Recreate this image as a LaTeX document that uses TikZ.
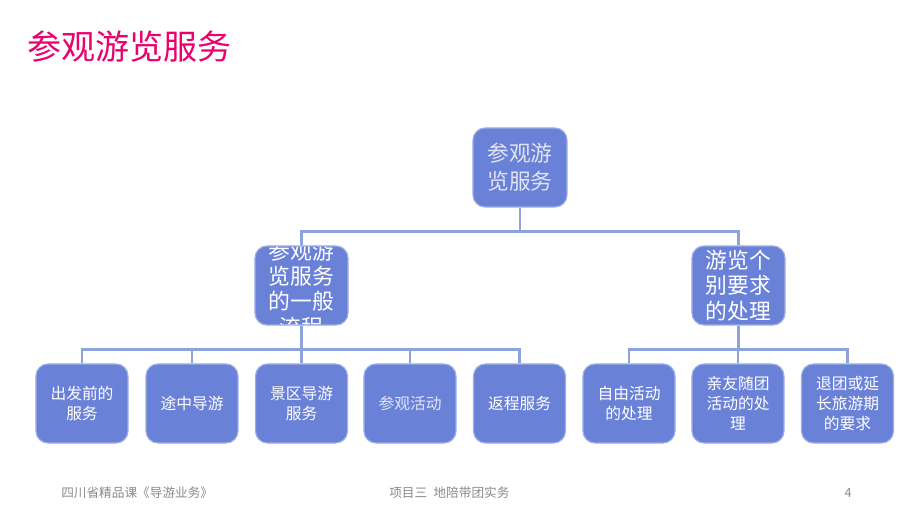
\documentclass[tikz,border=0pt]{standalone}
\usepackage{fontspec}
\newfontfamily\cjk{Noto Sans CJK SC}
\usepackage{tikz}
\usetikzlibrary{positioning}
\definecolor{titolo}{RGB}{236,0,110}
\definecolor{boxfondo}{RGB}{106,129,216}
\definecolor{boxbordo}{RGB}{158,175,232}
\definecolor{linea}{RGB}{141,163,222}
\definecolor{piede}{RGB}{137,137,137}
\definecolor{chiaro}{RGB}{226,228,242}

\begin{document}
\begin{tikzpicture}[x=0.025cm, y=-0.025cm,
    box/.style={draw=boxbordo, fill=boxfondo, line width=0.8pt, rounded corners=0.3cm,
        minimum width=2.3cm, minimum height=1.975cm, inner sep=0pt, align=center, text=white},
    grande/.style={font={\fontsize{15.5}{18}\selectfont\cjk}},
    piccolo/.style={font={\fontsize{11.2}{14.2}\selectfont\cjk}},
    conn/.style={draw=linea, line width=1.6pt}]
    \useasboundingbox (0,0) rectangle (920,518);
    % Titolo
    \node[anchor=west, inner sep=0pt, text=titolo, font={\fontsize{24.2}{28}\selectfont\cjk}] (titolo) at (27,47) {参观游览服务};
    % Livelli superiori
    \node[box, grande, minimum width=2.35cm, text=chiaro, font={\fontsize{15.5}{20}\selectfont\cjk}] (top) at (520,167.5) {参观游\\览服务};
    \node[box, minimum width=2.325cm, path picture={
        \node[grande, align=center, text=white, inner sep=0pt] at ([yshift=-0.08cm]path picture bounding box.center) {参观游\\览服务\\的一般\\流程};
    }] (gen) at (301.5,285.5) {};
    \node[box, grande, minimum width=2.325cm] (ind) at (738.5,285.5) {游览个\\别要求\\的处理};
    % Riga in basso
    \foreach \nome/\x/\testo/\col in {b1/82/出发前的\\服务/white, b2/192/途中导游/white,
        b3/301.5/景区导游\\服务/white, b4/410/参观活动/chiaro, b5/519.5/返程服务/white,
        b6/629/自由活动\\的处理/white, b7/738/亲友随团\\活动的处\\理/white,
        b8/847.5/退团或延\\长旅游期\\的要求/white}
        \node[box, piccolo, text=\col] (\nome) at (\x,403.5) {\testo};
    % Connettori
    \draw[conn] (top.south) -- ++(0,24) -| (gen.north);
    \draw[conn] (top.south) -- ++(0,24) -| (ind.north);
    \foreach \n in {b1,b2,b3,b4,b5}
        \draw[conn] (gen.south) -- ++(0,24) -| (\n.north);
    \foreach \n in {b6,b7,b8}
        \draw[conn] (ind.south) -- ++(0,24) -| (\n.north);
    % Piede di pagina
    \node[anchor=west, inner sep=0pt, text=piede, font={\fontsize{9}{11}\selectfont\cjk}] (corso) at (61,493) {四川省精品课《导游业务》};
    \node[anchor=west, inner sep=0pt, text=piede, font={\fontsize{9}{11}\selectfont\cjk}] (progetto) at (389,493) {项目三\enspace 地陪带团实务};
    \node[inner sep=0pt, text=piede, font={\fontsize{9}{11}\selectfont\cjk}] (pagina) at (848,493) {4};
\end{tikzpicture}
\end{document}
